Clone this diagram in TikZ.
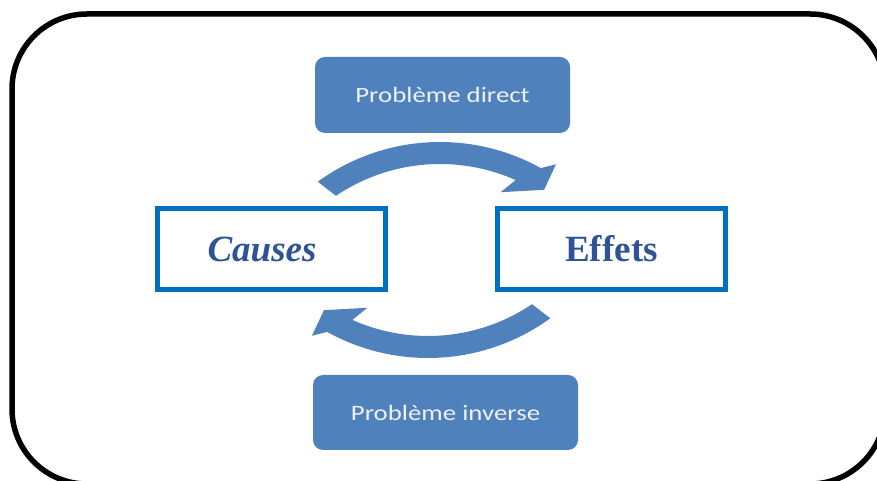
\documentclass[tikz,border=0pt]{standalone}
\usepackage{fontspec}
\usepackage{graphicx}
\setmainfont{Liberation Serif}
\newfontfamily\calib{Carlito}
\usetikzlibrary{positioning}
\definecolor{officeblue}{RGB}{79,129,189}
\definecolor{boxline}{RGB}{0,112,192}
\definecolor{termtext}{RGB}{47,84,150}
\tikzstyle{probbox} = [rectangle, rounded corners=10pt, minimum width=255pt, minimum height=76pt, fill=officeblue, text=white!94!black, font=\calib\fontsize{22}{24}\selectfont]
\tikzstyle{termbox} = [rectangle, line width=5pt, draw=boxline, minimum width=228pt, minimum height=81pt, text=termtext, font=\fontsize{37}{40}\selectfont\bfseries]
\tikzset{bendarrow/.pic={
  \fill[officeblue] (126:208) arc[start angle=126, end angle=61, radius=208]
    -- (58:219) -- (57:191) -- (69:169) -- (66:186)
    arc[start angle=66, end angle=124, radius=186] -- cycle;
}}

\begin{document}
\begin{tikzpicture}[x=1pt, y=1pt]
  \useasboundingbox (0,0) rectangle (877,481);
  % outer frame
  \draw[line width=5.5pt, rounded corners=75pt] (12,467) rectangle (885,-3);
  \node (direct) [probbox] at (442.5,386) {\scalebox{1.22}[1]{Problème direct}};
  \node (inverse) [probbox, below of=direct, node distance=317.5pt, xshift=3pt, minimum width=265pt, minimum height=75pt] {\scalebox{1.22}[1]{Problème inverse}};
  \node (causes) [termbox] at (271.5,232) {\itshape Causes\hspace*{19pt}\mbox{}};
  \node (effets) [termbox, right of=causes, node distance=340pt] {Effets};
  % curved arrows
  \coordinate (topc) at (440,131);
  \coordinate (botc) at (428,331);
  \pic at (topc) {bendarrow};
  \pic[rotate=180] at (botc) {bendarrow};
\end{tikzpicture}
\end{document}
